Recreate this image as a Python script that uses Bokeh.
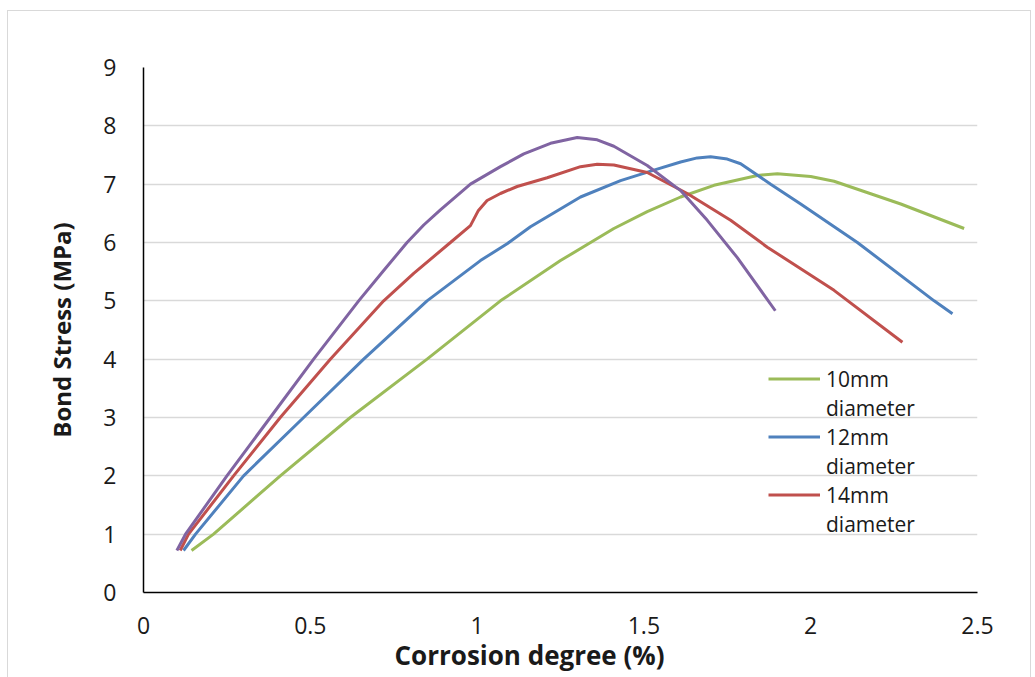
from bokeh.plotting import figure
from bokeh.models import FixedTicker, Legend, LegendItem, Range1d, Title
from bokeh.embed import file_html
from bokeh.resources import INLINE

# ---- data ----
x_ticks = [0, 0.5, 1, 1.5, 2, 2.5]
x_tick_labels = ["0", "0.5", "1", "1.5", "2", "2.5"]
y_ticks = [0, 1, 2, 3, 4, 5, 6, 7, 8, 9]

x_10mm = [0.144, 0.21, 0.41, 0.62, 0.85, 1.07, 1.25, 1.41, 1.51, 1.61, 1.71, 1.84, 1.90, 2.00, 2.07, 2.27, 2.46]
y_10mm = [0.72, 1.0, 2.0, 3.0, 4.0, 5.0, 5.69, 6.24, 6.53, 6.78, 6.98, 7.15, 7.18, 7.13, 7.05, 6.66, 6.24]

x_12mm = [0.12, 0.156, 0.30, 0.48, 0.66, 0.85, 1.01, 1.09, 1.16, 1.31, 1.43, 1.53, 1.61, 1.66, 1.70, 1.75, 1.79, 1.88, 1.97, 2.14, 2.37, 2.425]
y_12mm = [0.72, 1.0, 2.0, 3.0, 4.0, 5.0, 5.69, 5.98, 6.27, 6.78, 7.06, 7.24, 7.38, 7.45, 7.47, 7.43, 7.35, 7.0, 6.66, 6.0, 5.0, 4.78]

x_14mm = [0.11, 0.135, 0.27, 0.41, 0.56, 0.72, 0.81, 0.92, 0.98, 1.004, 1.03, 1.07, 1.12, 1.21, 1.31, 1.36, 1.41, 1.51, 1.63, 1.76, 1.87, 2.07, 2.275]
y_14mm = [0.72, 1.0, 2.0, 3.0, 4.0, 5.0, 5.47, 6.0, 6.29, 6.55, 6.72, 6.84, 6.96, 7.11, 7.30, 7.34, 7.33, 7.20, 6.84, 6.38, 5.92, 5.18, 4.29]

x_other = [0.10, 0.126, 0.25, 0.38, 0.51, 0.645, 0.72, 0.79, 0.84, 0.89, 0.98, 1.07, 1.14, 1.22, 1.30, 1.36, 1.41, 1.51, 1.61, 1.69, 1.78, 1.894]
y_other = [0.72, 1.0, 2.0, 3.0, 4.0, 5.0, 5.52, 6.0, 6.3, 6.56, 7.0, 7.30, 7.52, 7.70, 7.80, 7.76, 7.65, 7.32, 6.89, 6.38, 5.74, 4.83]

labels = ["10mm\ndiameter", "12mm\ndiameter", "14mm\ndiameter"]

FONT = "'Open Sans', sans-serif"
TXT = "#1a1a1a"

p = figure(frame_width=834, frame_height=525, output_backend="svg", toolbar_location=None,
           x_range=Range1d(0, 2.5), y_range=Range1d(0, 9),
           min_border_left=135, min_border_right=53, min_border_top=56, min_border_bottom=85,
           background_fill_color="white", border_fill_color="white", outline_line_color=None)
p.styles = {"border": "1px solid #d9d9d9", "margin-left": "7px", "margin-top": "10px"}

# grid
p.xgrid.visible = False
p.ygrid.grid_line_color = "#d9d9d9"
p.ygrid.grid_line_width = 1.5
p.ygrid.ticker = FixedTicker(ticks=y_ticks)

# axes
p.xaxis.ticker = FixedTicker(ticks=x_ticks)
p.xaxis.major_label_overrides = dict(zip(x_ticks, x_tick_labels))
p.yaxis.ticker = FixedTicker(ticks=y_ticks)
for ax in (p.xaxis, p.yaxis):
    ax.axis_line_color = "black"
    ax.axis_line_width = 1.5
    ax.major_tick_line_color = None
    ax.minor_tick_line_color = None
    ax.major_tick_out = 0
    ax.major_tick_in = 0
    ax.major_label_text_font = FONT
    ax.major_label_text_font_size = "23px"
    ax.major_label_text_color = TXT
    ax.axis_label_text_font = FONT
    ax.axis_label_text_font_style = "bold"
    ax.axis_label_text_color = TXT
p.yaxis.axis_label = "Bond Stress (MPa)"
p.yaxis.axis_label_text_font_size = "24px"
p.xaxis.major_label_standoff = 24
p.yaxis.major_label_standoff = 27
p.yaxis.axis_label_standoff = 22

xtitle = Title(text="Corrosion degree (%)", align="left", offset=251, standoff=0,
               vertical_align="top", text_font=FONT, text_font_style="bold",
               text_font_size="26px", text_color=TXT)
p.add_layout(xtitle, "below")

# series
g10 = p.line(x_10mm, y_10mm, line_color="#9BBB59", line_width=3)
g12 = p.line(x_12mm, y_12mm, line_color="#4F81BD", line_width=3)
g14 = p.line(x_14mm, y_14mm, line_color="#C0504D", line_width=3)
p.line(x_other, y_other, line_color="#8064A2", line_width=3)

dummy = p.line(x=[], y=[], line_alpha=0)

items = []
for lab, r in zip(labels, (g10, g12, g14)):
    first, second = lab.split("\n")
    items.append(LegendItem(label=first, renderers=[r]))
    items.append(LegendItem(label=second, renderers=[dummy]))

legend = Legend(items=items, location=(625, 54), border_line_color=None,
                background_fill_alpha=0, padding=0, margin=0, spacing=0,
                glyph_width=52, glyph_height=29, label_height=29, label_standoff=6,
                label_text_font=FONT, label_text_font_size="21px", label_text_color=TXT)
p.add_layout(legend)

open("out.html", "w").write(file_html(p, INLINE))
